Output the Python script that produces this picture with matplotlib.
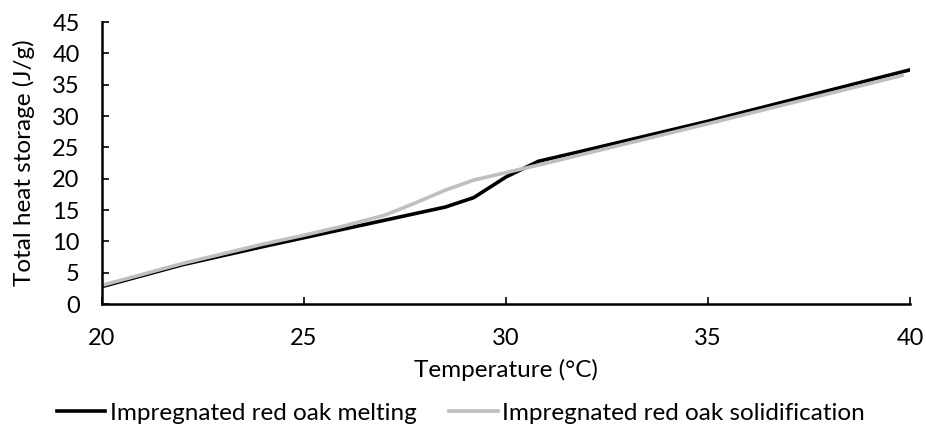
import matplotlib
matplotlib.use("Agg")
import matplotlib.pyplot as plt

# Temperature (°C) and total heat storage (J/g)
melt_temp = [20, 22, 24, 26, 27, 28.5, 29.2, 30.0, 30.8, 32, 35, 40]
melt_heat = [2.8, 6.3, 9.2, 12.0, 13.4, 15.5, 17.0, 20.3, 22.8, 24.6, 29.2, 37.4]

solid_temp = [20, 22, 24, 25, 26, 27, 27.7, 28.5, 29.2, 30, 31, 35, 39.8]
solid_heat = [3.0, 6.5, 9.6, 11.0, 12.5, 14.2, 16.0, 18.2, 19.8, 21.0, 22.5, 28.8, 36.5]

x_ticks = [20, 25, 30, 35, 40]
y_ticks = [0, 5, 10, 15, 20, 25, 30, 35, 40, 45]

plt.rcParams["font.family"] = ["Lato", "DejaVu Sans"]

fig = plt.figure(figsize=(9.26, 4.26), dpi=100)
ax = fig.add_axes([0.110, 0.286, 0.873, 0.662])

ax.plot(melt_temp, melt_heat, color="black", lw=2.6, label="Impregnated red oak melting",
        solid_joinstyle="round")
ax.plot(solid_temp, solid_heat, color="#BFBFBF", lw=2.6, label="Impregnated red oak solidification",
        solid_joinstyle="round")

ax.set_xlim(20, 40)
ax.set_ylim(0, 45)
ax.set_xticks(x_ticks)
ax.set_yticks(y_ticks)
ax.tick_params(direction="in", length=5, width=1.2, labelsize=17, colors="black")
ax.tick_params(axis="x", pad=17)
ax.tick_params(axis="y", pad=16)
for side in ("top", "right"):
    ax.spines[side].set_visible(False)
for side in ("left", "bottom"):
    ax.spines[side].set_linewidth(1.8)

ax.set_xlabel("Temperature (°C)", fontsize=17.5, labelpad=7)
ax.set_ylabel("Total heat storage (J/g)", fontsize=17.5, labelpad=12)

ax.legend(loc="center", bbox_to_anchor=(0.444, -0.386), ncol=2, frameon=False,
          fontsize=17.5, handlelength=2.0, handletextpad=0.17, columnspacing=1.36)

fig.savefig("out.png", dpi=100)
